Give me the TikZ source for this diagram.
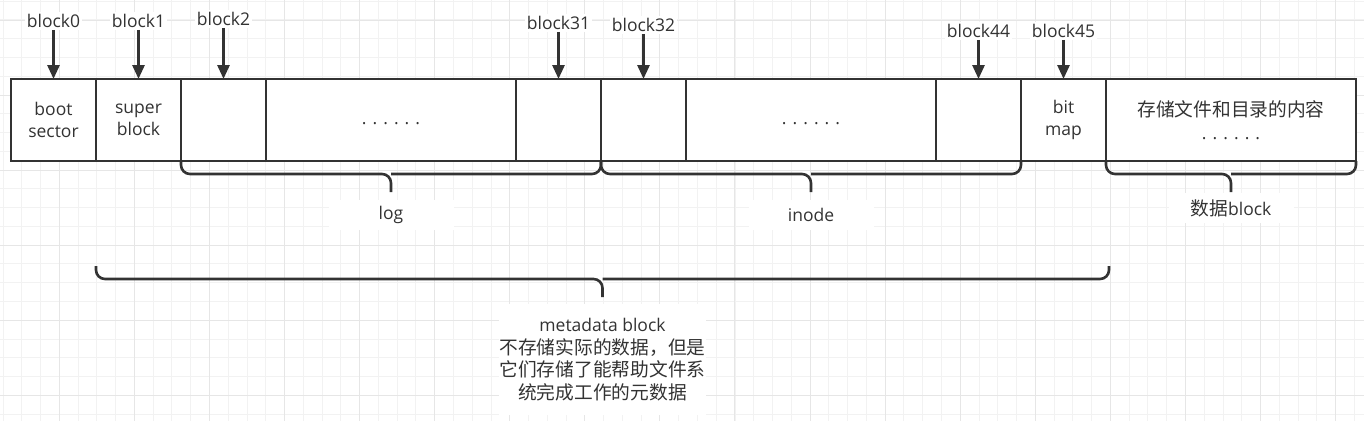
\documentclass[tikz,border=0pt]{standalone}
\usepackage{fontspec}
\setmainfont{Open Sans}
\newfontfamily\cjk[Scale=1.07]{Noto Sans CJK SC}
\usepackage{tikz}
\usetikzlibrary{arrows.meta,positioning,calc}
\definecolor{Ink}{HTML}{333333}
\definecolor{GridMinor}{HTML}{F2F2F2}
\definecolor{GridMajor}{HTML}{E6E6E6}
\newcommand{\blkbrace}[3]{%
  \coordinate (#3top) at ($(#1)!0.5!(#2)+(0,13)$);
  \draw[brace] (#1) |- (#3top) -- ++(0,18) coordinate (#3);
  \draw[brace] (#2) |- (#3top);}

\begin{document}
\begin{tikzpicture}[x=1pt, y=-1pt, font=\fontsize{17.5}{22.5}\selectfont, text=Ink]
\tikzset{blk/.style={draw=Ink, line width=2.6pt, fill=white, minimum width=85pt, minimum height=82pt, inner sep=0pt, outer sep=0pt, align=center}, wideblk/.style={blk, minimum width=250pt}, lbl/.style={fill=white, inner sep=2pt}, bracelbl/.style={fill=white, minimum width=125pt, minimum height=30pt, inner sep=0pt, align=center}, arr/.style={-{Triangle[length=14pt,width=12pt]}, line width=2.8pt, draw=Ink}, brace/.style={draw=Ink, line width=2.6pt, rounded corners=9pt}, gridminor/.style={draw=GridMinor, line width=1pt}, gridmajor/.style={draw=GridMajor, line width=1pt}}
\useasboundingbox (0,0) rectangle (1364,421);
\fill[white] (0,0) rectangle (1364,421);
\foreach \i in {0,...,72} \draw[gridminor] ({3.0+18.77*\i},0) -- ++(0,421);
\foreach \i in {0,...,22} \draw[gridminor] (0,{1.2+18.77*\i}) -- ++(1364,0);
\foreach \i in {0,...,17} \draw[gridmajor] ({59.3+75.07*\i},0) -- ++(0,421);
\foreach \i in {0,...,5} \draw[gridmajor] (0,{20+75.07*\i}) -- ++(1364,0);
\node[blk] (b0) at (53.5,120) {boot\\sector};
\node[blk, right=0pt of b0] (b1) {super\\block};
\node[blk, right=0pt of b1] (b2) {};
\node[wideblk, right=0pt of b2] (b3) {\strut. . . . . .};
\node[blk, right=0pt of b3] (b31) {};
\node[blk, right=0pt of b31] (b32) {};
\node[wideblk, right=0pt of b32] (b33) {\strut. . . . . .};
\node[blk, right=0pt of b33] (b44) {};
\node[blk, right=0pt of b44] (b45) {bit\\map};
\node[wideblk, right=0pt of b45] (bd) {{\cjk 存储文件和目录的内容}\\. . . . . .};
\foreach \b/\t/\y in {b0/block0/21,b1/block1/21,b2/block2/19,b31/block31/23,b32/block32/25,b44/block44/31,b45/block45/31} {
  \node[lbl] (l\b) at (\b.north |- 0,\y) {\t};
  \draw[arr] (l\b) -- (\b.north);
}
\blkbrace{b2.south west}{b31.south east}{logend}
\blkbrace{b32.south west}{b44.south east}{inodeend}
\blkbrace{bd.south west}{bd.south east}{dataend}
\blkbrace{$(b1.south west)+(0,105)$}{$(b45.south east)+(3,105)$}{metaend}
\node[bracelbl, below=8pt of logend] (loglbl) {log};
\node[bracelbl, below=8pt of inodeend] (inodelbl) {inode};
\node[bracelbl, below=1pt of dataend] (datalbl) {{\cjk 数据}block};
\node[bracelbl, minimum width=207pt, minimum height=111pt, below=7pt of metaend] (metalbl) {metadata block\\{\cjk 不存储实际的数据，但是}\\{\cjk 它们存储了能帮助文件系}\\{\cjk 统完成工作的元数据}};
\end{tikzpicture}
\end{document}
